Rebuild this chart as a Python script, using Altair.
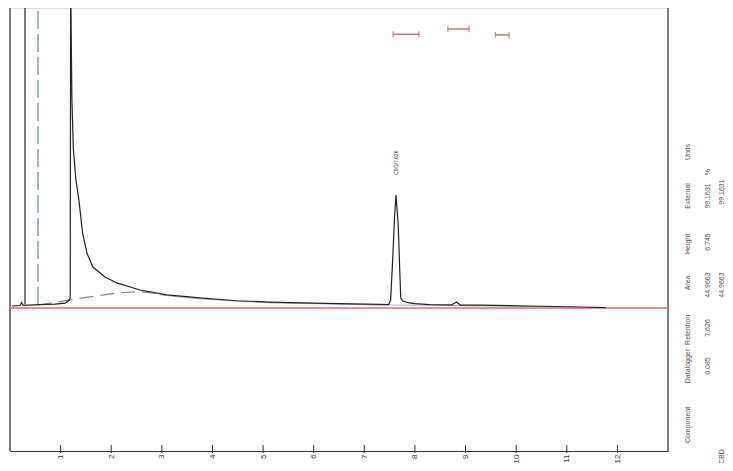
import altair as alt
import pandas as pd

# ---- chromatogram trace (retention time, min / detector signal) ----
trace_time = [0.04, 0.20, 0.23, 0.26, 0.59, 0.89, 1.09, 1.165, 1.19, 1.20, 1.204, 1.223,
              1.253, 1.302, 1.361, 1.434, 1.520, 1.638, 1.875, 2.112, 2.566, 3.10, 3.75,
              4.48, 5.13, 5.98, 7.30, 7.48, 7.52, 7.56, 7.60, 7.626, 7.67, 7.70, 7.72,
              7.76, 7.86, 8.00, 8.29, 8.73, 8.82, 8.90, 9.28, 10.27, 11.26, 11.77]
trace_signal = [0.12, 0.15, 0.33, 0.16, 0.21, 0.24, 0.30, 0.45, 0.60, 25.0, 18.2, 12.6,
                9.58, 7.76, 6.55, 4.55, 3.33, 2.48, 1.88, 1.52, 1.09, 0.79, 0.61,
                0.44, 0.36, 0.30, 0.22, 0.21, 0.48, 2.90, 5.64, 6.85, 5.03, 2.30, 0.60,
                0.42, 0.33, 0.27, 0.21, 0.19, 0.36, 0.18, 0.17, 0.12, 0.06, 0.02]

# fitted baseline (dashed part, then continuation)
base_dash_time = [0.553, 1.00, 1.44, 2.11, 2.57, 2.95]
base_dash_signal = [0.18, 0.40, 0.61, 0.91, 0.99, 0.86]
base_solid_time = [2.95, 3.75, 5.13, 7.30, 8.29, 10.27, 11.77]
base_solid_signal = [0.80, 0.55, 0.31, 0.18, 0.17, 0.09, 0.0]

# event markers
event_solid_time = [0.296]
event_dash_time = [0.553]

# integration markers at top
marker_start = [7.57, 8.65, 9.59]
marker_end = [8.08, 9.07, 9.86]
marker_level = [16.59, 16.91, 16.55]

# peak label
peak_time = [7.626]
peak_label = ["CBD/7.626"]

# x ticks
tick_values = [1, 2, 3, 4, 5, 6, 7, 8, 9, 10, 11, 12]

# results table (rotated)
table_headers = ["Component", "Datalogger", "Retention", "Area", "Height", "External", "Units"]
table_row1 = ["", "0.085", "7.626", "44.9663", "6.745", "99.1631", "%"]
table_row2 = ["CBD", "", "", "44.9663", "", "99.1631", ""]

# layout of the table (separate from values)
col_x = [13.39, 13.80, 14.07]
header_y = [-7.09, -3.52, -1.33, 1.52, 3.88, 6.79, 9.45]
row1_y = [0, -3.52, -1.21, 1.39, 4.0, 6.79, 8.24]
row2_y = [-9.0, 0, 0, 1.39, 0, 7.03, 0]

X_DOM = [0, 13]
Y_DOM = [-8.667, 18.182]
W, H = 658, 443

xs = alt.Scale(domain=X_DOM, nice=False, zero=False, padding=0)
ys = alt.Scale(domain=Y_DOM, nice=False, zero=False, padding=0)

x_axis = alt.Axis(values=tick_values, labelAngle=270, labelFontSize=8,
                  labelColor="#333333", labelFont="Liberation Sans",
                  domainColor="#333333", domainWidth=1.2, ticks=False,
                  labelPadding=3, grid=False, labelBaseline="middle",
                  labelAlign="right", title=None)

trace_df = pd.DataFrame({"t": trace_time, "s": trace_signal, "o": range(len(trace_time))})
bd_df = pd.DataFrame({"t": base_dash_time, "s": base_dash_signal})
bs_df = pd.DataFrame({"t": base_solid_time, "s": base_solid_signal})

cells = []
for i, h in enumerate(table_headers):
    cells.append({"text": h, "x": col_x[0], "y": header_y[i]})
for i, v in enumerate(table_row1):
    if v:
        cells.append({"text": v, "x": col_x[1], "y": row1_y[i]})
for i, v in enumerate(table_row2):
    if v:
        cells.append({"text": v, "x": col_x[2], "y": row2_y[i]})
table_df = pd.DataFrame(cells)


def X(f):
    return alt.X(f, scale=xs, axis=x_axis, title=None)


def Y(f):
    return alt.Y(f, scale=ys, axis=None, title=None)


tick_marks = alt.Chart(pd.DataFrame({"t": tick_values})).mark_rule(
    color="#333333", strokeWidth=1).encode(
    x=X("t:Q"), y=alt.value(H - 6), y2=alt.value(H + 2))

borders = alt.Chart(pd.DataFrame({"t": X_DOM})).mark_rule(
    color="#333333", strokeWidth=1.2).encode(
    x=X("t:Q"), y=alt.value(0), y2=alt.value(H))

red_base = alt.Chart(pd.DataFrame({"a": [X_DOM[0]], "b": [X_DOM[1]], "y": [0]})).mark_rule(
    color="#d9706a", strokeWidth=1.3).encode(
    x=X("a:Q"), x2="b:Q", y=Y("y:Q"))

ev_solid = alt.Chart(pd.DataFrame({"t": event_solid_time, "y0": [0.22], "y1": [Y_DOM[1]]})).mark_rule(
    color="#222222", strokeWidth=1.2).encode(x=X("t:Q"), y=Y("y0:Q"), y2="y1:Q")

ev_dash = alt.Chart(pd.DataFrame({"t": event_dash_time, "y0": [0.18], "y1": [Y_DOM[1]]})).mark_rule(
    color="#6f8fae", strokeWidth=1.3, strokeDash=[18, 5]).encode(x=X("t:Q"), y=Y("y0:Q"), y2="y1:Q")

base_dash = alt.Chart(bd_df).mark_line(color="#6f8fae", strokeWidth=1.2, strokeDash=[14, 7]).encode(
    x=X("t:Q"), y=Y("s:Q"))
base_solid = alt.Chart(bs_df).mark_line(color="#9fb4c8", strokeWidth=1.0).encode(
    x=X("t:Q"), y=Y("s:Q"))

trace = alt.Chart(trace_df).mark_line(color="#222222", strokeWidth=1.2, clip=True).encode(
    x=X("t:Q"), y=Y("s:Q"), order="o:Q")

mk_df = pd.DataFrame({"a": marker_start, "b": marker_end, "y": marker_level})
mk_rule = alt.Chart(mk_df).mark_rule(color="#b8655f", strokeWidth=1.3).encode(
    x=X("a:Q"), x2="b:Q", y=Y("y:Q"))
mk_caps_a = alt.Chart(mk_df).mark_tick(color="#b8655f", orient="vertical", size=6, thickness=1.3).encode(
    x=X("a:Q"), y=Y("y:Q"))
mk_caps_b = alt.Chart(mk_df).mark_tick(color="#b8655f", orient="vertical", size=6, thickness=1.3).encode(
    x=X("b:Q"), y=Y("y:Q"))

peak_df = pd.DataFrame({"t": peak_time, "y": [8.8], "label": peak_label})
peak_text = alt.Chart(peak_df).mark_text(angle=270, align="center", baseline="middle",
                                          fontSize=5, font="Liberation Sans", color="#333333").encode(
    x=X("t:Q"), y=Y("y:Q"), text="label:N")

table = alt.Chart(table_df).mark_text(angle=270, align="center", baseline="middle",
                                      fontSize=7, font="Liberation Sans", color="#555555").encode(
    x=X("x:Q"), y=Y("y:Q"), text="text:N")

chart = alt.layer(
    borders, tick_marks, red_base, base_solid, base_dash, ev_dash, ev_solid,
    trace, mk_rule, mk_caps_a, mk_caps_b, peak_text, table
).properties(
    width=W, height=H,
    autosize=alt.AutoSizeParams(type="none"),
    padding={"left": 2, "top": 0, "right": 57, "bottom": 12},
).configure_view(stroke=None).configure(background="white")

chart.save("out.html", embed_options={"renderer": "svg", "actions": False})
